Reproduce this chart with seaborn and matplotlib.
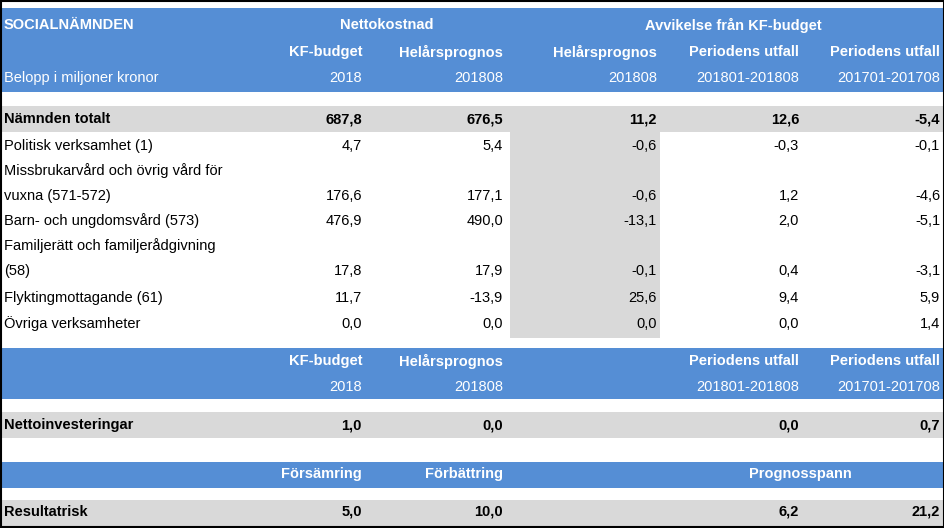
import matplotlib
matplotlib.use("Agg")
import matplotlib.pyplot as plt
from matplotlib.patches import Rectangle
import seaborn as sns

sns.set_theme(style="white", rc={"font.family": "Liberation Sans"})

rows = ["Nämnden totalt", "Politisk verksamhet (1)",
        "Missbrukarvård och övrig vård för\nvuxna (571-572)", "Barn- och ungdomsvård (573)",
        "Familjerätt och familjerådgivning\n(58)", "Flyktingmottagande (61)", "Övriga verksamheter"]
kf_budget = ["687,8", "4,7", "176,6", "476,9", "17,8", "11,7", "0,0"]
helar = ["676,5", "5,4", "177,1", "490,0", "17,9", "-13,9", "0,0"]
avv_helar = ["11,2", "-0,6", "-0,6", "-13,1", "-0,1", "25,6", "0,0"]
avv_per1 = ["12,6", "-0,3", "1,2", "2,0", "0,4", "9,4", "0,0"]
avv_per2 = ["-5,4", "-0,1", "-4,6", "-5,1", "-3,1", "5,9", "1,4"]
invest = ["1,0", "0,0", "0,0", "0,7"]
risk = ["5,0", "10,0", "6,2", "21,2"]

W, H = 945, 528
BLUE = "#558ED5"
GRAY = "#D9D9D9"
fig = plt.figure(figsize=(W/100, H/100), dpi=100)
ax = fig.add_axes([0, 0, 1, 1])
ax.set_xlim(0, W); ax.set_ylim(H, 0); ax.axis("off")

def rect(x0, y0, x1, y1, c):
    ax.add_patch(Rectangle((x0, y0), x1-x0, y1-y0, color=c, lw=0))

def t(x, y, s, ha="left", bold=False, color="black", size=10.5):
    ax.text(x, y, s, ha=ha, va="center", fontsize=size, color=color,
            fontweight="bold" if bold else "normal")

R = [362, 503, 657, 799, 940]
# header blue
rect(0, 8, W, 92, BLUE)
rect(0, 348, W, 399, BLUE)
rect(0, 462, W, 488, BLUE)
# gray bands
rect(0, 106, W, 132, GRAY)
rect(510, 132, 660, 338, GRAY)
rect(0, 412, W, 438, GRAY)
rect(0, 500, W, 526, GRAY)

wh = "white"
t(4, 25, "SOCIALNÄMNDEN", bold=True, color=wh)
t(387, 25, "Nettokostnad", ha="center", bold=True, color=wh)
t(733, 25, "Avvikelse från KF-budget", ha="center", bold=True, color=wh)
for x, s in zip(R, ["KF-budget", "Helårsprognos", "Helårsprognos", "Periodens utfall", "Periodens utfall"]):
    t(x, 52, s, ha="right", bold=True, color=wh)
t(4, 78, "Belopp i miljoner kronor", color=wh)
for x, s in zip(R, ["2018", "201808", "201808", "201801-201808", "201701-201708"]):
    t(x, 78, s, ha="right", color=wh)

ys = [119, 146, 183, 221, 258, 298, 324]
for i, y in enumerate(ys):
    b = i == 0
    if "\n" in rows[i]:
        a, c = rows[i].split("\n")
        t(4, y-12, a); t(4, y+13, c); yv = y+13
    else:
        t(4, y, rows[i], bold=b); yv = y
    for x, arr in zip(R, [kf_budget, helar, avv_helar, avv_per1, avv_per2]):
        t(x, yv, arr[i], ha="right", bold=b)

for x, s in zip([R[0], R[1], R[3], R[4]], ["KF-budget", "Helårsprognos", "Periodens utfall", "Periodens utfall"]):
    t(x, 361, s, ha="right", bold=True, color=wh)
for x, s in zip([R[0], R[1], R[3], R[4]], ["2018", "201808", "201801-201808", "201701-201708"]):
    t(x, 387, s, ha="right", color=wh)
t(4, 425, "Nettoinvesteringar", bold=True)
for x, s in zip([R[0], R[1], R[3], R[4]], invest):
    t(x, 425, s, ha="right", bold=True)

t(R[0], 474, "Försämring", ha="right", bold=True, color=wh)
t(R[1], 474, "Förbättring", ha="right", bold=True, color=wh)
t(800, 474, "Prognosspann", ha="center", bold=True, color=wh)
t(4, 512, "Resultatrisk", bold=True)
for x, s in zip([R[0], R[1], R[3], R[4]], risk):
    t(x, 512, s, ha="right", bold=True)

ax.add_patch(Rectangle((0.5, 0.5), W-1.5, H-1.5, fill=False, ec="black", lw=1.5))
fig.savefig("out.png", dpi=100)
